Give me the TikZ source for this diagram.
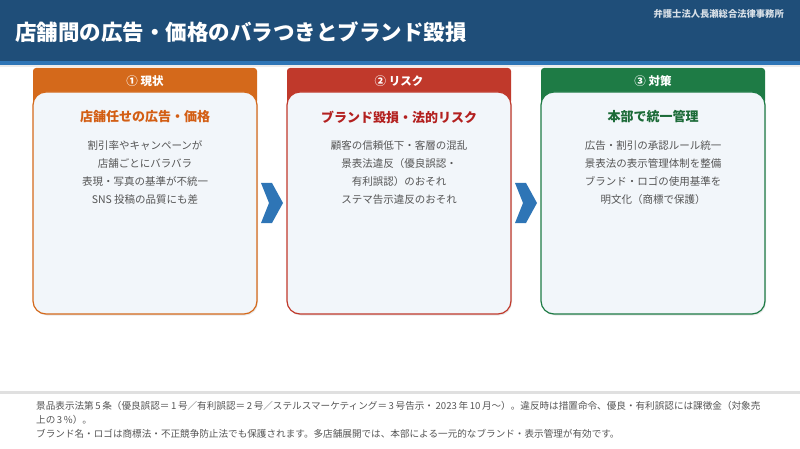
\documentclass[tikz,border=0pt]{standalone}
\usepackage{fontspec}
\setmainfont{Noto Sans CJK JP}
\usetikzlibrary{calc,shadows}

\definecolor{navy}{HTML}{1F4E79}
\definecolor{stripe}{HTML}{2E75B6}
\definecolor{paper}{HTML}{F2F6FA}
\definecolor{ink}{HTML}{555555}
\definecolor{orng}{HTML}{D4691B}
\definecolor{orngtxt}{HTML}{D35E14}
\definecolor{rd}{HTML}{C0392B}
\definecolor{rdtxt}{HTML}{B3201F}
\definecolor{grn}{HTML}{1E7B45}
\definecolor{grntxt}{HTML}{1C6B38}

\tikzset{
  head/.style={fill=#1, rounded corners=3pt, minimum width=224pt, minimum height=36pt, inner sep=0pt},
  card/.style={draw=#1, line width=1.2pt, fill=paper, rounded corners=13pt, minimum width=224pt, minimum height=222pt, inner sep=0pt,
    drop shadow={opacity=0.18, shadow xshift=1pt, shadow yshift=-1.5pt}},
  headtxt/.style={text=white, font=\bfseries\fontsize{11.5}{13}\selectfont, inner sep=0pt},
  cardttl/.style={text=#1, font=\bfseries\fontsize{13}{15}\selectfont, inner sep=0pt},
  lines/.style={text=ink, align=center, font=\fontsize{10.5}{18}\selectfont, inner sep=0pt},
  chev/.style={fill=stripe},
  foot/.style={text=ink, font=\fontsize{9.6}{11}\selectfont, inner sep=0pt, anchor=base west}
}

\begin{document}
\begin{tikzpicture}[x=1pt,y=-1pt]
\useasboundingbox (0,0) rectangle (800,449);
\fill[navy] (0,0) rectangle (800,61);
\fill[stripe] (0,61) rectangle (800,65.5);
\fill[black!8] (0,65.5) rectangle (800,67);
\node[anchor=west, text=white, font=\bfseries\fontsize{21.5}{24}\selectfont, inner sep=0pt] (ttl) at (15,32) {店舗間の広告・価格のバラつきとブランド毀損};
\node[anchor=east, text=white!82!navy, font=\bfseries\fontsize{9.3}{11}\selectfont, inner sep=0pt] (firm) at (784,14) {弁護士法人長瀬総合法律事務所};

\node[head=orng] (h1) at (145,86) {};
\node[card=orng] (b1) at (145,203) {};
\node[headtxt] (l1) at (145,81) {① 現状};
\node[cardttl=orngtxt] (t1) at (145,117) {店舗任せの広告・価格};
\node[lines] (p1) at (145,172.5) {割引率やキャンペーンが\\店舗ごとにバラバラ\\表現・写真の基準が不統一\\SNS 投稿の品質にも差};

\node[head=rd] (h2) at (399,86) {};
\node[card=rd] (b2) at (399,203) {};
\node[headtxt] (l2) at (399,81) {② リスク};
\node[cardttl=rdtxt] (t2) at (399,117) {ブランド毀損・法的リスク};
\node[lines] (p2) at (399,172.5) {顧客の信頼低下・客層の混乱\\景表法違反（優良誤認・\\有利誤認）のおそれ\\ステマ告示違反のおそれ};

\node[head=grn] (h3) at (653,86) {};
\node[card=grn] (b3) at (653,203) {};
\node[headtxt] (l3) at (653,81) {③ 対策};
\node[cardttl=grntxt] (t3) at (653,117) {本部で統一管理};
\node[lines] (p3) at (653,172.5) {広告・割引の承認ルール統一\\景表法の表示管理体制を整備\\ブランド・ロゴの使用基準を\\明文化（商標で保護）};

\fill[chev] ($(b1.east)!.5!(b2.west)$) ++(-11,-20) -- ++(11,0) -- ++(11,20) -- ++(-11,20) -- ++(-11,0) -- ++(8,-20) -- cycle;
\fill[chev] ($(b2.east)!.5!(b3.west)$) ++(-11,-20) -- ++(11,0) -- ++(11,20) -- ++(-11,20) -- ++(-11,0) -- ++(8,-20) -- cycle;

\fill[black!12] (0,391) rectangle (800,393.5);
\node[foot] (f1) at (36,409.6) {景品表示法第\,5\,条（優良誤認＝\,1\,号／有利誤認＝\,2\,号／ステルスマーケティング＝\,3\,号告示・\,2023\,年\,10\,月〜）。違反時は措置命令、優良・有利誤認には課徴金（対象売};
\node[foot] (f2) at (36,423) {上の\,3\,\%）。};
\node[foot] (f3) at (36,437.8) {ブランド名・ロゴは商標法・不正競争防止法でも保護されます。多店舗展開では、本部による一元的なブランド・表示管理が有効です。};
\end{tikzpicture}
\end{document}
